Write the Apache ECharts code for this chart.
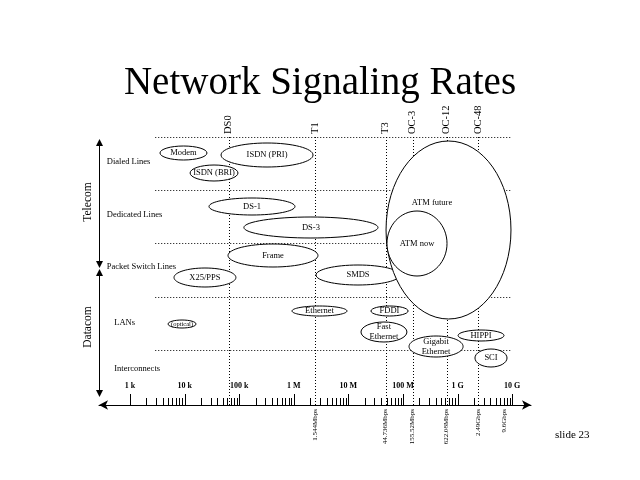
<!DOCTYPE html>
<html><head><meta charset="utf-8">
<script src="https://cdn.jsdelivr.net/npm/echarts@6/dist/echarts.min.js"></script>
<style>html,body{margin:0;padding:0;background:#fff}#c{width:640px;height:480px}</style>
</head><body><div id="c"></div>
<script>
const SERIF = '"Liberation Serif", "Times New Roman", serif';

// Speed markers (x position in bps)
const markerNames = ['DS0', 'T1', 'T3', 'OC-3', 'OC-12', 'OC-48'];
const markerRates = [64e3, 2.44e6, 48e6, 150e6, 630e6, 2.4e9];

// Rate labels under the axis
const rateLabels = ['1.544Mbps', '44.736Mbps', '155.52Mbps', '622.08Mbps', '2.49Gbps', '9.6Gbps'];
const rateLabelAt = [2.44e6, 48e6, 150e6, 630e6, 2.4e9, 7.1e9];

// Decade tick labels
const decadeLabels = ['1 k', '10 k', '100 k', '1 M', '10 M', '100 M', '1 G', '10 G'];
const decadeValues = [1e3, 1e4, 1e5, 1e6, 1e7, 1e8, 1e9, 1e10];

// Row separators
const rowLines = [268, 215, 162, 108, 55];
const rowLineFrom = 2900;
const rowLineTo = 9.5e9;

// Row names
const rowNames = ['Dialed Lines', 'Dedicated Lines', 'Packet Switch Lines', 'LANs', 'Interconnects'];
const rowNameRate = [375, 375, 375, 515, 515];
const rowNameY = [243, 190, 138, 82, 36];

// Groups on the left
const groupNames = ['Telecom', 'Datacom'];
const groupTop = [266, 136];
const groupBottom = [137, 8];
const groupLabelY = [203, 78];

// Technology ovals: rate span and vertical span
const ovalNames = ['Modem', 'ISDN (PRI)', 'ISDN (BRI)', 'DS-1', 'DS-3', 'Frame', 'X25/PPS', 'SMDS',
  'ATM future', 'ATM now', '(optical)', 'Ethernet', 'FDDI', 'Fast\nEthernet', 'Gigabit\nEthernet', 'HIPPI', 'SCI'];
const ovalLow = [3540, 46.5e3, 12.6e3, 28e3, 122e3, 62.4e3, 6.4e3, 2.55e6,
  48.9e6, 50.9e6, 4.97e3, 927e3, 25.9e6, 17e6, 129e6, 1.02e9, 2.08e9];
const ovalHigh = [25.7e3, 2.25e6, 95e3, 1.05e6, 34.8e6, 2.77e6, 87e3, 88e6,
  9.5e9, 640e6, 16.2e3, 9.42e6, 124e6, 118e6, 1.26e9, 7.08e9, 8.04e9];
const ovalBottom = [245, 238, 224, 190, 167, 138, 118, 120, 86, 129, 77, 89, 89, 63, 48, 64, 38];
const ovalTop = [259, 262, 240, 207, 188, 161, 137, 140, 264, 194, 85, 99, 99, 83, 69, 75, 56];
// Label anchor when not centred
const ovalLabelRate = [null, null, null, null, null, null, null, null, 340e6, null, null, null, null, null, null, null, null];
const ovalLabelY = [null, null, null, null, null, null, null, null, 202, null, null, null, null, null, null, null, null];

const chart = echarts.init(document.getElementById('c'), null, { renderer: 'canvas' });

const tickData = [];
decadeValues.forEach(function (d, k) {
  tickData.push([d, 1]);
  if (k < decadeValues.length - 1) {
    for (let m = 2; m <= 9; m++) tickData.push([d * m, 0]);
  }
});

function px(v) { return Math.round(v) + 0.5; }
const BLACK = '#000';

const option = {
  animation: false,
  backgroundColor: '#fff',
  title: [
    { text: 'Network Signaling Rates', left: 'center', top: 59,
      textStyle: { fontFamily: SERIF, fontSize: 39, fontWeight: 'normal', color: BLACK } },
    { text: 'slide 23', left: 550, top: 425,
      textStyle: { fontFamily: SERIF, fontSize: 11, fontWeight: 'normal', color: BLACK } }
  ],
  grid: { left: 99, right: 109, top: 137, bottom: 75, containLabel: false },
  xAxis: {
    type: 'log', logBase: 10, min: 270.5, max: 2.21e10,
    axisLine: { show: true, onZero: false, symbol: ['arrow', 'arrow'], symbolSize: [7, 9],
      lineStyle: { color: BLACK, width: 1 } },
    axisTick: { show: false }, axisLabel: { show: false }, splitLine: { show: false },
    minorTick: { show: false }, minorSplitLine: { show: false }
  },
  yAxis: { type: 'value', min: 0, max: 268, show: false },
  series: [
    // horizontal row separators
    {
      type: 'custom', clip: false, z: 1, silent: true,
      data: rowLines.map(function (y) { return [rowLineFrom, rowLineTo, y]; }),
      encode: { x: [0, 1], y: 2 },
      renderItem: function (params, api) {
        const a = api.coord([api.value(0), api.value(2)]);
        const b = api.coord([api.value(1), api.value(2)]);
        return { type: 'line', shape: { x1: a[0], y1: px(a[1]), x2: b[0], y2: px(b[1]) },
          style: { stroke: BLACK, lineWidth: 1, lineDash: [1, 2] } };
      }
    },
    // vertical marker lines and top labels
    {
      type: 'custom', clip: false, z: 1, silent: true,
      data: markerRates.map(function (r) { return [r, 0, 268]; }),
      encode: { x: 0, y: [1, 2] },
      renderItem: function (params, api) {
        const i = params.dataIndex;
        const a = api.coord([api.value(0), 0]);
        const b = api.coord([api.value(0), 268]);
        const t = api.coord([api.value(0), 271]);
        return { type: 'group', children: [
          { type: 'line', shape: { x1: px(a[0]), y1: a[1], x2: px(b[0]), y2: b[1] },
            style: { stroke: BLACK, lineWidth: 1, lineDash: [1, 2] } },
          { type: 'text', x: t[0], y: t[1], rotation: Math.PI / 2,
            style: { text: markerNames[i], fontFamily: SERIF, fontSize: 10.5, fill: BLACK,
              align: 'left', verticalAlign: 'middle' } }
        ] };
      }
    },
    // rate labels under axis
    {
      type: 'custom', clip: false, z: 2, silent: true,
      data: rateLabelAt.map(function (r) { return [r, -4]; }),
      encode: { x: 0, y: 1 },
      renderItem: function (params, api) {
        const i = params.dataIndex;
        const p = api.coord([api.value(0), api.value(1)]);
        return { type: 'text', x: p[0], y: p[1], rotation: Math.PI / 2,
          style: { text: rateLabels[i], fontFamily: SERIF, fontSize: 7, fill: BLACK,
            align: 'right', verticalAlign: 'middle' } };
      }
    },
    // axis ticks (major/minor)
    {
      type: 'custom', clip: false, z: 3, silent: true,
      data: tickData,
      encode: { x: 0 },
      renderItem: function (params, api) {
        const p = api.coord([api.value(0), 0]);
        const len = api.value(1) === 1 ? 11 : 7;
        return { type: 'line', shape: { x1: px(p[0]), y1: p[1], x2: px(p[0]), y2: p[1] - len },
          style: { stroke: BLACK, lineWidth: 1 } };
      }
    },
    // decade labels
    {
      type: 'custom', clip: false, z: 3, silent: true,
      data: decadeValues.map(function (v) { return [v, 19]; }),
      encode: { x: 0, y: 1 },
      renderItem: function (params, api) {
        const i = params.dataIndex;
        const p = api.coord([api.value(0), api.value(1)]);
        return { type: 'text', x: p[0], y: p[1],
          style: { text: decadeLabels[i], fontFamily: SERIF, fontSize: 8, fontWeight: 'bold', fill: BLACK,
            align: 'center', verticalAlign: 'middle' } };
      }
    },
    // row names
    {
      type: 'custom', clip: false, z: 3, silent: true,
      data: rowNames.map(function (n, i) { return [rowNameRate[i], rowNameY[i]]; }),
      encode: { x: 0, y: 1 },
      renderItem: function (params, api) {
        const i = params.dataIndex;
        const p = api.coord([api.value(0), api.value(1)]);
        return { type: 'text', x: p[0], y: p[1],
          style: { text: rowNames[i], fontFamily: SERIF, fontSize: 8.5, fill: BLACK,
            align: 'left', verticalAlign: 'middle' } };
      }
    },
    // group arrows on the left
    {
      type: 'custom', clip: false, z: 3, silent: true,
      data: groupNames.map(function (n, i) { return [270.5, groupBottom[i], groupTop[i]]; }),
      encode: { x: 0, y: [1, 2] },
      renderItem: function (params, api) {
        const i = params.dataIndex;
        const a = api.coord([api.value(0), api.value(1)]);
        const b = api.coord([api.value(0), api.value(2)]);
        const l = api.coord([api.value(0), groupLabelY[i]]);
        const x = px(a[0]);
        return { type: 'group', children: [
          { type: 'line', shape: { x1: x, y1: a[1] - 5, x2: x, y2: b[1] + 5 }, style: { stroke: BLACK, lineWidth: 1 } },
          { type: 'polygon', shape: { points: [[x, b[1]], [x - 3.5, b[1] + 7], [x + 3.5, b[1] + 7]] }, style: { fill: BLACK } },
          { type: 'polygon', shape: { points: [[x, a[1]], [x - 3.5, a[1] - 7], [x + 3.5, a[1] - 7]] }, style: { fill: BLACK } },
          { type: 'text', x: x - 12, y: l[1], rotation: Math.PI / 2,
            style: { text: groupNames[i], fontFamily: SERIF, fontSize: 11.5, fill: BLACK,
              align: 'center', verticalAlign: 'middle' } }
        ] };
      }
    },
    // ovals
    {
      type: 'custom', clip: false, z: 5, silent: true,
      data: ovalNames.map(function (n, i) { return [ovalLow[i], ovalHigh[i], ovalBottom[i], ovalTop[i]]; }),
      encode: { x: [0, 1], y: [2, 3] },
      renderItem: function (params, api) {
        const i = params.dataIndex;
        const p1 = api.coord([api.value(0), api.value(2)]);
        const p2 = api.coord([api.value(1), api.value(3)]);
        const cx = (p1[0] + p2[0]) / 2, cy = (p1[1] + p2[1]) / 2;
        const rx = Math.abs(p2[0] - p1[0]) / 2, ry = Math.abs(p1[1] - p2[1]) / 2;
        let lx = cx, ly = cy;
        if (ovalLabelRate[i] != null) {
          const q = api.coord([ovalLabelRate[i], ovalLabelY[i]]);
          lx = q[0]; ly = q[1];
        }
        return { type: 'group', children: [
          { type: 'ellipse', shape: { cx: cx, cy: cy, rx: rx, ry: ry },
            style: { fill: '#fff', stroke: BLACK, lineWidth: 1 } },
          { type: 'text', x: lx, y: ly,
            style: { text: ovalNames[i], fontFamily: SERIF, fontSize: ovalNames[i] === '(optical)' ? 6.5 : 8.5,
              fill: BLACK, align: 'center', verticalAlign: 'middle', lineHeight: 10 } }
        ] };
      }
    }
  ]
};
chart.setOption(option);
</script>
</body></html>
